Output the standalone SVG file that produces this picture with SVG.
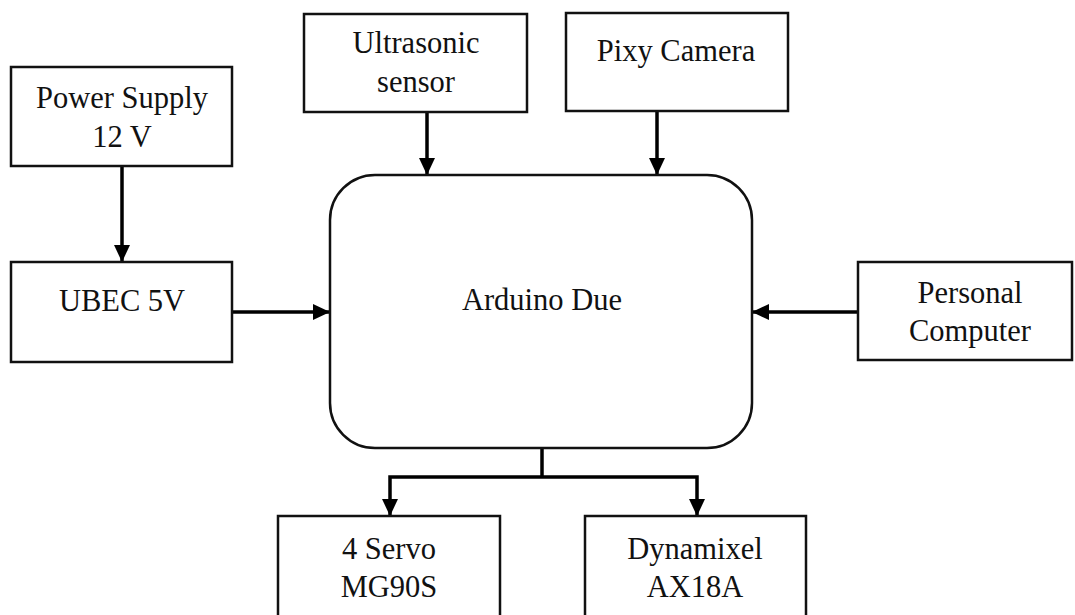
<svg xmlns="http://www.w3.org/2000/svg" width="1075" height="615" viewBox="0 0 1075 615">
  <defs>
    <marker id="ah" markerUnits="userSpaceOnUse" markerWidth="18" markerHeight="16" refX="17" refY="8" orient="auto">
      <path d="M0,0 L17,8 L0,16 Z" fill="#000"/>
    </marker>
  </defs>
  <style>
    .box{fill:#fff;stroke:#111;stroke-width:2.5}
    .lbl{font-size:30.5px;fill:#111;text-anchor:middle}
    .con{fill:none;stroke:#000;stroke-width:3.5}
  </style>
  <rect width="1075" height="615" fill="#fff"/>
  <g id="connectors">
    <path class="con" d="M122,166 V262" marker-end="url(#ah)"/>
    <path class="con" d="M232,312 H330" marker-end="url(#ah)"/>
    <path class="con" d="M427,112 V175" marker-end="url(#ah)"/>
    <path class="con" d="M657,111 V175" marker-end="url(#ah)"/>
    <path class="con" d="M858,312 H752" marker-end="url(#ah)"/>
    <path class="con" d="M542,448 V477"/>
    <path class="con" d="M542,477 H390 V516" marker-end="url(#ah)"/>
    <path class="con" d="M542,477 H697 V516" marker-end="url(#ah)"/>
  </g>
  <g id="power-supply">
    <rect class="box" x="11" y="67" width="221" height="99"/>
    <text class="lbl" font-family="Liberation Serif, serif" x="122" y="108">Power Supply</text>
    <text class="lbl" font-family="Liberation Serif, serif" x="122" y="147">12 V</text>
  </g>
  <g id="ubec">
    <rect class="box" x="11" y="262" width="221" height="100"/>
    <text class="lbl" font-family="Liberation Serif, serif" x="122" y="311">UBEC 5V</text>
  </g>
  <g id="ultrasonic">
    <rect class="box" x="304" y="14" width="223" height="98"/>
    <text class="lbl" font-family="Liberation Serif, serif" x="416" y="53">Ultrasonic</text>
    <text class="lbl" font-family="Liberation Serif, serif" x="416" y="92">sensor</text>
  </g>
  <g id="pixy">
    <rect class="box" x="566" y="13" width="222" height="98"/>
    <text class="lbl" font-family="Liberation Serif, serif" x="676" y="61">Pixy Camera</text>
  </g>
  <g id="arduino">
    <rect class="box" x="330" y="175" width="422" height="273" rx="45" ry="45"/>
    <text class="lbl" font-family="Liberation Serif, serif" x="542" y="310">Arduino Due</text>
  </g>
  <g id="pc">
    <rect class="box" x="858" y="262" width="214" height="98"/>
    <text class="lbl" font-family="Liberation Serif, serif" x="970" y="303">Personal</text>
    <text class="lbl" font-family="Liberation Serif, serif" x="970" y="341">Computer</text>
  </g>
  <g id="servo">
    <rect class="box" x="278" y="516" width="222" height="110"/>
    <text class="lbl" font-family="Liberation Serif, serif" x="389" y="559">4 Servo</text>
    <text class="lbl" font-family="Liberation Serif, serif" x="389" y="597">MG90S</text>
  </g>
  <g id="dynamixel">
    <rect class="box" x="585" y="516" width="221" height="110"/>
    <text class="lbl" font-family="Liberation Serif, serif" x="695" y="559">Dynamixel</text>
    <text class="lbl" font-family="Liberation Serif, serif" x="695" y="597">AX18A</text>
  </g>
</svg>
